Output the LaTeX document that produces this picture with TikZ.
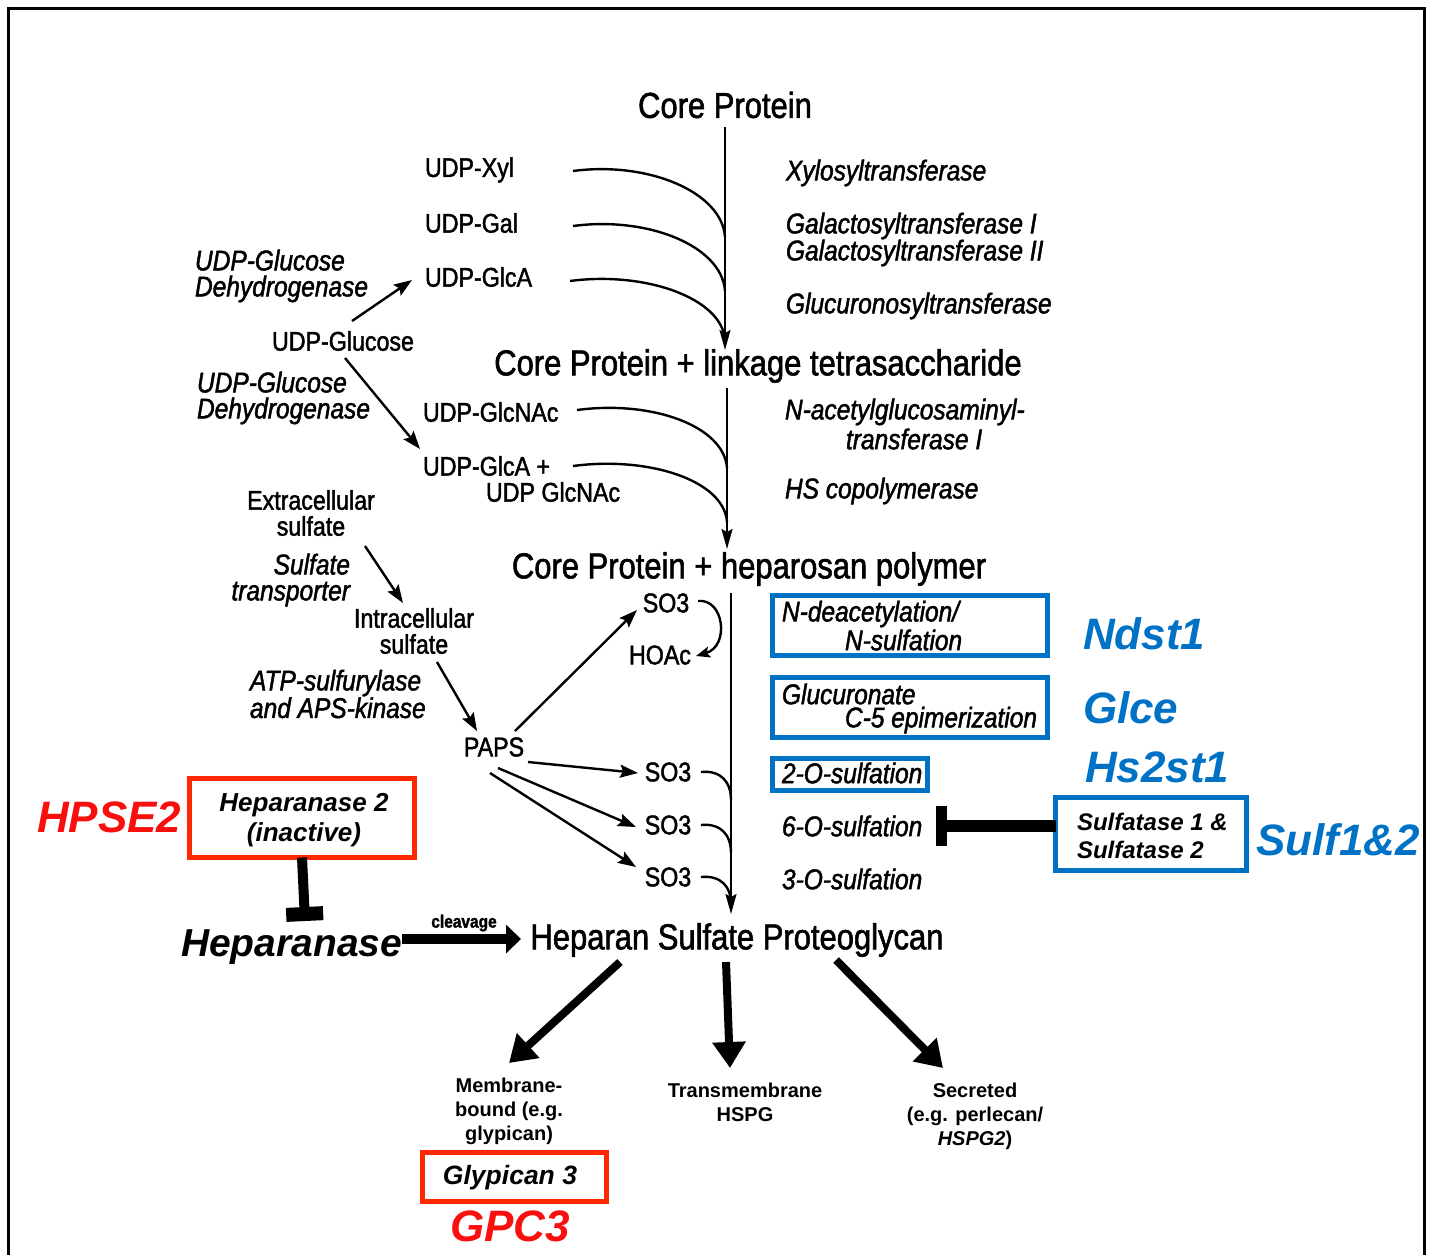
\documentclass[tikz,border=0pt]{standalone}
\usepackage{fontspec}
\setmainfont{Liberation Sans}
\newfontfamily\scanf[FakeStretch=0.86,FakeBold=1.6]{Liberation Sans}
\usetikzlibrary{arrows.meta}
\definecolor{hsblue}{RGB}{0,114,198}
\definecolor{boxred}{RGB}{255,40,0}
\definecolor{genered}{RGB}{250,15,15}
\tikzset{
  every node/.style={inner sep=0pt, outer sep=0pt},
  big/.style={font=\scanf\fontsize{36}{36}\selectfont},
  mid/.style={font=\scanf\fontsize{27}{26}\selectfont},
  enz/.style={font=\scanf\itshape\fontsize{28.5}{26}\selectfont},
  gene/.style={font=\bfseries\itshape\fontsize{44}{44}\selectfont},
  boxtxt/.style={font=\bfseries\itshape\fontsize{24}{30}\selectfont},
  lowtxt/.style={font=\bfseries\fontsize{20}{24}\selectfont, align=center},
  scanline/.style={line width=2.4pt},
  thinarrow/.style={line width=2.4pt, -{Stealth[length=18pt,width=13pt,inset=3pt]}},
  mainarrow/.style={line width=2pt, -{Stealth[length=20pt,width=11pt,inset=3pt]}},
  fatarrow/.style={line width=8pt, -{Triangle[length=26pt,width=32pt]}},
  bluebox/.style={draw=hsblue, line width=5pt},
  redbox/.style={draw=boxred, line width=5pt},
}
\begin{document}
\begin{tikzpicture}[x=1pt,y=-1pt]
\useasboundingbox (0,0) rectangle (1434,1254);
\fill[white] (0,0) rectangle (1434,1254);
% frame
\draw[line width=3pt] (8,1260) -- (8,8) -- (1424,8) -- (1424,1260);

% main flow
\node[big] (cp) at (725,105) {Core Protein};
\node[big] (lt) at (758,366) {Core Protein + linkage tetrasaccharide};
\node[big] (hp) at (749,569) {Core Protein + heparosan polymer};
\node[big] (hspg) at (737,940) {Heparan Sulfate Proteoglycan};

\coordinate (v1s) at (725,127);
\coordinate (v1e) at (725,350);
\coordinate (v2s) at (727,388);
\coordinate (v2e) at (727,549);
\coordinate (v3s) at (731,593);
\coordinate (v3e) at (731,914);
\draw[mainarrow] (v1s) -- (v1e);
\draw[mainarrow] (v2s) -- (v2e);
\draw[mainarrow] (v3s) -- (v3e);

% donors
\node[mid,anchor=west] (xyl) at (425,170) {UDP-Xyl};
\node[mid,anchor=west] (gal) at (425,223) {UDP-Gal};
\node[mid,anchor=west] (glca) at (425,277) {UDP-GlcA};
\node[mid] (ug) at (343,341) {UDP-Glucose};
\node[mid,anchor=west] (glcnac) at (423,412) {UDP-GlcNAc};
\node[mid,anchor=west] (glcap) at (423,466) {UDP-GlcA +};
\node[mid,anchor=west] (glcnac2) at (486,492) {UDP GlcNAc};

\coordinate (c1) at (573,171); \coordinate (j1) at (725,237);
\coordinate (c2) at (573,226); \coordinate (j2) at (725,291);
\coordinate (c3) at (570,281); \coordinate (j3) at (725,340);
\coordinate (c4) at (577,410); \coordinate (j4) at (727,468);
\coordinate (c5) at (573,466); \coordinate (j5) at (727,522);
\draw[scanline] (c1) .. controls +(75,-10) and +(-3,-45) .. (j1);
\draw[scanline] (c2) .. controls +(75,-10) and +(-3,-45) .. (j2);
\draw[scanline] (c3) .. controls +(75,-10) and +(-3,-42) .. (j3);
\draw[scanline] (c4) .. controls +(75,-10) and +(-3,-42) .. (j4);
\draw[scanline] (c5) .. controls +(75,-10) and +(-3,-42) .. (j5);

% enzymes
\node[enz,anchor=west] at (786,173) {Xylosyltransferase};
\node[enz,anchor=west] at (786,226) {Galactosyltransferase I};
\node[enz,anchor=west] at (786,253) {Galactosyltransferase II};
\node[enz,anchor=west] at (786,306) {Glucuronosyltransferase};
\node[enz,anchor=west] at (785,412) {N-acetylglucosaminyl-};
\node[enz,anchor=west] at (846,439) {transferase I};
\node[enz,anchor=west] at (785,491) {HS copolymerase};

% left side
\node[enz,align=left,anchor=west] (dh1) at (195,276) {UDP-Glucose\\Dehydrogenase};
\node[enz,align=left,anchor=west] (dh2) at (197,398) {UDP-Glucose\\Dehydrogenase};
\coordinate (u1s) at (352,321); \coordinate (u1e) at (412,280);
\coordinate (u2s) at (345,358); \coordinate (u2e) at (420,449);
\draw[thinarrow] (u1s) -- (u1e);
\draw[thinarrow] (u2s) -- (u2e);

\node[mid,align=center] (exs) at (311,513) {Extracellular\\sulfate};
\node[enz,align=right,anchor=east] at (350,580) {Sulfate\\transporter};
\node[mid,align=center] (ins) at (414,631) {Intracellular\\sulfate};
\node[enz,align=left,anchor=west] at (250,694) {ATP-sulfurylase\\and APS-kinase};
\node[mid] (paps) at (494,747) {PAPS};
\coordinate (s1s) at (365,546); \coordinate (s1e) at (403,603);
\coordinate (s2s) at (437,662); \coordinate (s2e) at (477,731);
\draw[thinarrow] (s1s) -- (s1e);
\draw[thinarrow] (s2s) -- (s2e);

% sulfation
\node[mid] (so1) at (666,603) {SO3};
\node[mid] (hoac) at (660,655) {HOAc};
\node[mid] (so2) at (668,772) {SO3};
\node[mid] (so3) at (668,825) {SO3};
\node[mid] (so4) at (668,877) {SO3};
\coordinate (p1s) at (515,731); \coordinate (p1e) at (637,610);
\coordinate (p2s) at (528,762); \coordinate (p2e) at (638,773);
\coordinate (p3s) at (498,768); \coordinate (p3e) at (636,827);
\coordinate (p4s) at (490,773); \coordinate (p4e) at (636,867);
\draw[thinarrow] (p1s) -- (p1e);
\draw[thinarrow] (p2s) -- (p2e);
\draw[thinarrow] (p3s) -- (p3e);
\draw[thinarrow] (p4s) -- (p4e);

\coordinate (h1) at (698,601); \coordinate (h2) at (696,656);
\draw[line width=2.4pt, -{Stealth[length=14pt,width=11pt,inset=3pt]}] (h1) .. controls (724,598) and (730,646) .. (h2);
\coordinate (k2) at (701,772); \coordinate (m2) at (731,800);
\coordinate (k3) at (701,825); \coordinate (m3) at (731,853);
\coordinate (k4) at (701,877); \coordinate (m4) at (731,903);
\draw[scanline] (k2) .. controls +(20,-2) and +(0,-18) .. (m2);
\draw[scanline] (k3) .. controls +(20,-2) and +(0,-18) .. (m3);
\draw[scanline] (k4) .. controls +(20,-2) and +(0,-16) .. (m4);

% blue boxes
\node[bluebox, minimum width=275pt, minimum height=60pt] (b1) at (910,625.5) {};
\node[bluebox, minimum width=275pt, minimum height=60pt] (b2) at (910,707.5) {};
\node[bluebox, minimum width=155pt, minimum height=32pt] (b3) at (850,774.5) {};
\node[enz,anchor=west] at (782,614) {N-deacetylation/};
\node[enz,anchor=west] at (845,640) {N-sulfation};
\node[enz,anchor=west] at (782,694) {Glucuronate};
\node[enz,anchor=west] at (845,720) {C-5 epimerization};
\node[enz,anchor=west] at (782,773) {2-O-sulfation};
\node[enz,anchor=west] (o6) at (782,826) {6-O-sulfation};
\node[enz,anchor=west] at (782,879) {3-O-sulfation};

\node[gene,text=hsblue,anchor=west] at (1083,634) {Ndst1};
\node[gene,text=hsblue,anchor=west] at (1083,708) {Glce};
\node[gene,text=hsblue,anchor=west] at (1085,767) {Hs2st1};
\node[gene,text=hsblue,anchor=west] at (1256,840) {Sulf1\&2};

% sulfatase
\node[bluebox, minimum width=191pt, minimum height=73pt] (sulf) at (1151,834) {};
\node[boxtxt,anchor=west] at (1077,822) {Sulfatase 1 \&};
\node[boxtxt,anchor=west] at (1077,850) {Sulfatase 2};
\coordinate (sulfbar) at (936,826);
\draw[line width=12pt, -{Rectangle[length=11pt,width=40pt]}] (sulf.west |- sulfbar) -- (sulfbar);

% heparanase 2
\node[gene,text=genered,anchor=west] at (37,817) {HPSE2};
\node[redbox, minimum width=225pt, minimum height=79pt] (hb) at (302,818) {};
\node[font=\bfseries\itshape\fontsize{26}{30}\selectfont] at (304,805) {Heparanase 2};
\node[font=\bfseries\itshape\fontsize{26}{30}\selectfont] at (304,835) {(inactive)};
\coordinate (hbar) at (305,921);
\draw[line width=10pt, -{Rectangle[length=14pt,width=37pt]}] (hb.south) -- (hbar);

\node[font=\bfseries\itshape\fontsize{39}{39}\selectfont,anchor=west] (hep) at (181,947) {Heparanase};
\node[font=\scanf\bfseries\fontsize{18}{18}\selectfont] at (464,923) {cleavage};
\coordinate (cle) at (521,939);
\draw[line width=10pt, -{Triangle[length=15pt,width=28pt]}] (hep.east |- cle) -- (cle);

% HSPG outputs
\coordinate (o1s) at (620,962); \coordinate (o1e) at (509,1063);
\coordinate (o2s) at (726,962); \coordinate (o2e) at (730,1068);
\coordinate (o3s) at (836,960); \coordinate (o3e) at (943,1068);
\draw[fatarrow] (o1s) -- (o1e);
\draw[fatarrow] (o2s) -- (o2e);
\draw[fatarrow] (o3s) -- (o3e);

\node[lowtxt] (mb) at (509,1111) {Membrane-\\bound (e.g.\\glypican)};
\node[lowtxt] (tm) at (745,1102) {Transmembrane\\HSPG};
\node[lowtxt] (sec) at (975,1116) {Secreted\\(e.g. perlecan/\\\textit{HSPG2})};

\node[redbox, minimum width=184pt, minimum height=49pt] (gb) at (514.5,1177) {};
\node[font=\bfseries\itshape\fontsize{26.5}{30}\selectfont] at (510,1178) {Glypican 3};
\node[gene,text=genered] at (510,1226) {GPC3};
\end{tikzpicture}
\end{document}
